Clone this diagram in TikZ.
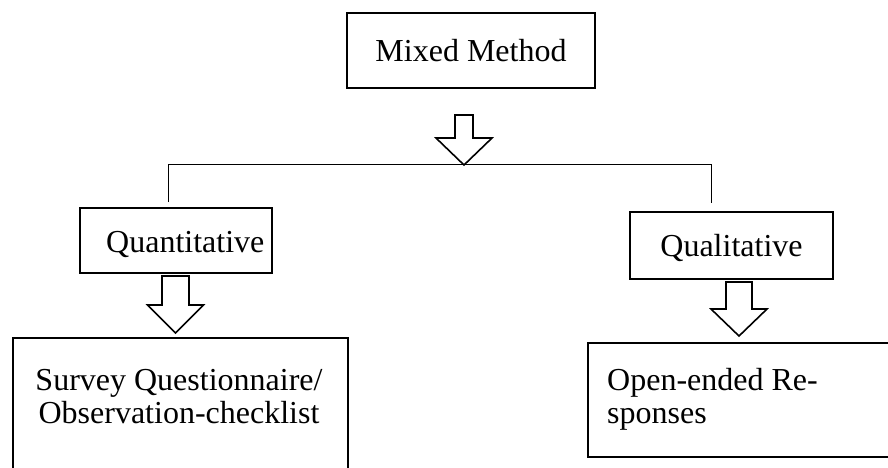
\documentclass[tikz,border=0pt]{standalone}
\usepackage{fontspec}
\setmainfont{Liberation Serif}
\begin{document}
\begin{tikzpicture}[x=1pt,y=-1pt,
  box/.style={draw=black, line width=1.5pt, rectangle, inner sep=0pt,
    font=\fontsize{32}{33}\selectfont, text height=22pt, text depth=0pt},
  label/.style={font=\fontsize{32}{33}\selectfont, inner sep=0pt},
  link/.style={draw=black, line width=0.9pt},
  blockarrow/.style={draw=black, line width=1.6pt, fill=white, line join=miter}]
\useasboundingbox (0,0) rectangle (888,467);
\clip (0,0) rectangle (888,467);

% hollow down arrow: centre x, top, shoulder, tip, half shaft, half head
\newcommand{\downblock}[6]{%
  \path[blockarrow] ({#1-#5},#2) -- ({#1+#5},#2) -- ({#1+#5},#3) -- ({#1+#6},#3)
    -- (#1,#4) -- ({#1-#6},#3) -- ({#1-#5},#3) -- cycle;}

% boxes
\node[box, minimum width=248pt, minimum height=75pt] (mixed) at (471,50.5) {Mixed Method};
\node[box, minimum width=192pt, minimum height=65pt] (quan) at (176,240.5) {};
\node[box, minimum width=203pt, minimum height=67pt] (qual) at (731.5,245.5) {Qualitative};
\node[box, minimum width=335pt, minimum height=162pt] (survey) at (180.5,419) {};
\node[box, minimum width=332pt, minimum height=114pt] (open) at (754,400) {};

% texts of the boxes drawn empty above
\node[label, anchor=base west] (quantext) at (106,252) {Quantitative};
\node[label, align=center, anchor=north] (surveytext) at (179,369)
  {Survey Questionnaire/\\Observation-checklist};
\node[label, align=left, anchor=north west] (opentext) at (607,368)
  {Open-ended Re-\\sponses};

% branching line
\coordinate (quanDrop) at (168,202);
\coordinate (qualTop) at (711,164);
\coordinate (qualDrop) at (711,203);
\draw[link] (quanDrop) |- (qualTop) -- (qualDrop);

% block arrows
\downblock{464}{115}{138}{165}{9}{28}
\downblock{175.5}{276}{305}{333}{13.5}{28}
\downblock{739}{282}{309}{336}{13}{28}
\end{tikzpicture}
\end{document}
